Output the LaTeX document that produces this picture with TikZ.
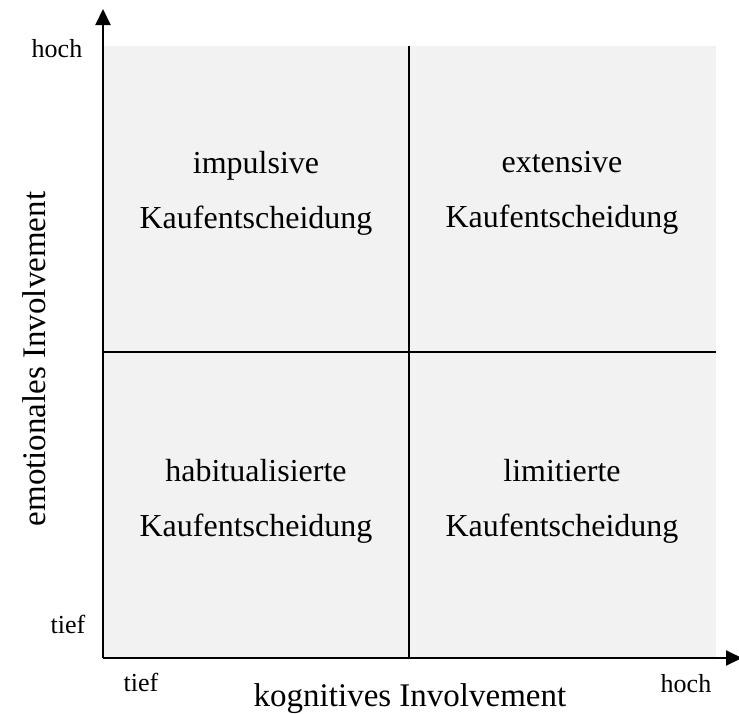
\documentclass[tikz,border=0pt]{standalone}
\usepackage{fontspec}
\setmainfont{Liberation Serif}
\usetikzlibrary{arrows.meta}
\definecolor{panelgrey}{HTML}{F2F2F2}
\begin{document}
\begin{tikzpicture}[x=0.5pt,y=-0.5pt,
  axis/.style={line width=1pt,-{Triangle[length=8pt,width=7.5pt]}},
  divider/.style={line width=1pt},
  quadtext/.style={align=center,font=\fontsize{16}{27.5}\selectfont,inner sep=0pt},
  ticktext/.style={font=\fontsize{13}{15}\selectfont,inner sep=0pt,anchor=base},
  axistext/.style={font=\fontsize{16.5}{19}\selectfont,inner sep=0pt,anchor=base}]
  \useasboundingbox (0,0) rectangle (739,713);
  % grey panel
  \fill[panelgrey] (103,46) rectangle (716,658);
  % corner coordinates
  \coordinate (origin) at (103,658);
  \coordinate (ytip) at (103,9);
  \coordinate (xtip) at (742,658);
  \coordinate (mtop) at (409,46);
  \coordinate (mbot) at (409,658);
  \coordinate (mleft) at (103,352);
  \coordinate (mright) at (716,352);
  % dividers
  \draw[divider] (mtop) -- (mbot);
  \draw[divider] (mleft) -- (mright);
  % axes
  \draw[axis] (origin) -- (ytip);
  \draw[axis] (origin) -- (xtip);
  % quadrant labels
  \node[quadtext] (impulsiv) at (256,193) {impulsive\\Kaufentscheidung};
  \node[quadtext] (extensiv) at (562,193) {extensive\\Kaufentscheidung};
  \node[quadtext] (habituell) at (256,501) {habitualisierte\\Kaufentscheidung};
  \node[quadtext] (limitiert) at (562,501) {limitierte\\Kaufentscheidung};
  % tick labels
  \node[ticktext] (yhoch) at (57,57) {hoch};
  \node[ticktext] (ytief) at (68,633) {tief};
  \node[ticktext] (xtief) at (141,691) {tief};
  \node[ticktext] (xhoch) at (686,692) {hoch};
  % axis titles
  \node[axistext] (xtitle) at (410,706) {kognitives Involvement};
  \node[axistext,rotate=90] (ytitle) at (46,359) {emotionales Involvement};
\end{tikzpicture}
\end{document}
